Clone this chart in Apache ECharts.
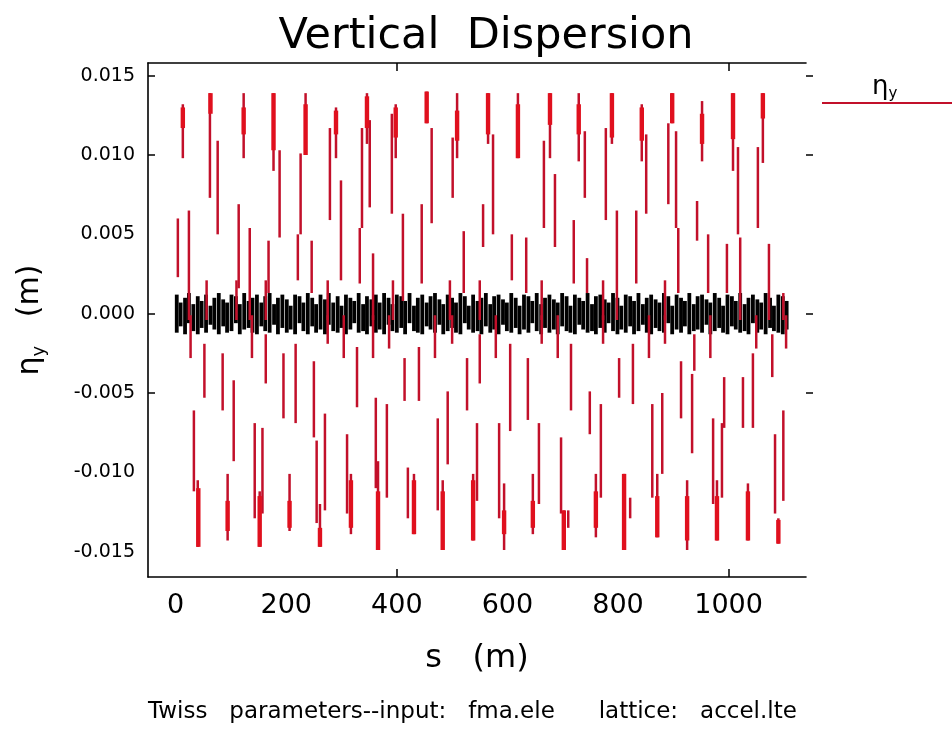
<!DOCTYPE html>
<html><head><meta charset="utf-8">
<script src="https://cdn.jsdelivr.net/npm/echarts@6/dist/echarts.min.js"></script>
<style>html,body{margin:0;padding:0;background:#fff}#c{width:952px;height:732px}</style>
</head><body><div id="c"></div>
<script>
const chartTitle = 'Vertical  Dispersion';
const footerText = 'Twiss   parameters--input:   fma.ele      lattice:   accel.lte';
const xTickLabels = [0, 200, 400, 600, 800, 1000];
const xTickMarks = [400, 1000];
const yTickLabels = [0.015, 0.010, 0.005, 0.000, -0.005, -0.010, -0.015];
const yTickMarks = [0.015, 0.010, 0.000, -0.005];

// [s (m), upper eta (m), lower eta (m)] of the red vertical strokes
const redSegments = [
[4,0.0060,0.0023],[13,0.0132,0.0098],[24,0.0065,-0.0004],[56,0.0021,-0.0004],[62,0.0139,0.0073],[76,0.0109,0.0050],
[110,0.0021,-0.0004],[114,0.0069,0.0016],[123,0.0139,0.0098],[134,0.0054,-0.0004],[163,0.0021,-0.0004],[168,0.0046,0.0013],
[177,0.0139,0.0090],[188,0.0103,0.0048],[221,0.0050,0.0021],[226,0.0101,0.0050],[235,0.0139,0.0105],[246,0.0046,0.0013],
[275,0.0021,-0.0004],[279,0.0117,0.0059],[290,0.0130,0.0098],[299,0.0084,0.0021],[333,0.0054,0.0019],[337,0.0117,0.0054],
[346,0.0139,0.0107],[351,0.0122,0.0067],[357,0.0038,-0.0004],[391,0.0126,0.0063],[393,0.0021,-0.0004],[398,0.0132,0.0098],
[411,0.0063,0.0008],[445,0.0069,0.0019],[454,0.0140,0.0120],[463,0.0117,0.0057],[496,0.0021,-0.0004],[501,0.0111,0.0073],
[509,0.0139,0.0098],[521,0.0052,0.0013],[550,0.0021,-0.0004],[556,0.0069,0.0042],[565,0.0139,0.0107],[574,0.0113,0.0050],
[608,0.0050,0.0021],[619,0.0139,0.0098],[634,0.0048,0.0013],[662,0.0021,-0.0004],[666,0.0109,0.0054],[677,0.0139,0.0098],
[686,0.0088,0.0042],[720,0.0059,0.0019],[729,0.0139,0.0096],[740,0.0115,0.0073],[744,0.0035,0.0013],[773,0.0021,-0.0004],
[778,0.0117,0.0059],[789,0.0139,0.0107],[798,0.0065,-0.0004],[833,0.0065,0.0019],[843,0.0132,0.0096],[851,0.0113,0.0063],
[885,0.0021,-0.0004],[891,0.0120,0.0069],[898,0.0139,0.0120],[905,0.0115,0.0054],[909,0.0054,0.0013],[943,0.0071,0.0046],
[952,0.0134,0.0096],[963,0.0050,0.0013],[997,0.0044,0.0013],[1008,0.0139,0.0090],[1017,0.0105,0.0050],[1021,0.0048,-0.0004],
[1053,0.0105,0.0054],[1062,0.0139,0.0095],[1073,0.0044,-0.0004],[1099,0.0013,-0.0004],
[27,-0.0001,-0.0028],[33,-0.0061,-0.0112],[40,-0.0105,-0.0147],[52,-0.0019,-0.0053],[85,-0.0025,-0.0061],[94,-0.0101,-0.0143],
[105,-0.0042,-0.0093],[138,-0.0001,-0.0028],[143,-0.0069,-0.0129],[152,-0.0112,-0.0147],[157,-0.0072,-0.0126],[163,-0.0013,-0.0044],
[195,-0.0025,-0.0066],[206,-0.0101,-0.0137],[217,-0.0019,-0.0069],[250,-0.0030,-0.0078],[255,-0.0080,-0.0132],[261,-0.0120,-0.0147],
[270,-0.0063,-0.0124],[275,-0.0001,-0.0019],[304,-0.0001,-0.0028],[310,-0.0076,-0.0126],[317,-0.0101,-0.0139],[328,-0.0021,-0.0059],
[357,-0.0001,-0.0028],[362,-0.0053,-0.0110],[366,-0.0093,-0.0149],[382,-0.0057,-0.0116],[386,-0.0001,-0.0022],[414,-0.0028,-0.0055],
[420,-0.0097,-0.0129],[431,-0.0101,-0.0139],[440,-0.0021,-0.0055],[469,-0.0001,-0.0028],[474,-0.0066,-0.0124],[483,-0.0105,-0.0149],
[492,-0.0049,-0.0095],[500,-0.0001,-0.0019],[527,-0.0028,-0.0061],[538,-0.0101,-0.0143],[545,-0.0069,-0.0118],[550,-0.0013,-0.0044],
[579,-0.0001,-0.0028],[585,-0.0069,-0.0129],[594,-0.0107,-0.0149],[605,-0.0019,-0.0074],[637,-0.0028,-0.0067],[646,-0.0101,-0.0139],
[657,-0.0069,-0.0120],[662,-0.0001,-0.0019],[691,-0.0001,-0.0028],[697,-0.0078,-0.0126],[702,-0.0124,-0.0149],[710,-0.0124,-0.0135],
[715,-0.0019,-0.0061],[749,-0.0049,-0.0076],[760,-0.0101,-0.0141],[769,-0.0057,-0.0116],[773,-0.0001,-0.0019],[802,-0.0028,-0.0053],
[811,-0.0101,-0.0149],[822,-0.0116,-0.0129],[827,-0.0019,-0.0057],[856,-0.0001,-0.0028],[862,-0.0057,-0.0116],[871,-0.0101,-0.0141],
[880,-0.0050,-0.0101],[885,-0.0001,-0.0019],[914,-0.0030,-0.0066],[925,-0.0105,-0.0149],[934,-0.0038,-0.0088],[938,-0.0013,-0.0036],
[967,-0.0001,-0.0028],[972,-0.0066,-0.0120],[979,-0.0105,-0.0143],[988,-0.0069,-0.0116],[992,-0.0040,-0.0072],[1026,-0.0040,-0.0072],
[1035,-0.0107,-0.0143],[1044,-0.0025,-0.0072],[1050,-0.0001,-0.0022],[1079,-0.0013,-0.0040],[1084,-0.0076,-0.0126],[1090,-0.0129,-0.0145],
[1099,-0.0061,-0.0118],[1104,-0.0001,-0.0022]
];

// dense parts near each extremum [s, upper, lower]
const redPeaks = [
[13,0.0130,0.0117],[63,0.0139,0.0126],[123,0.0130,0.0113],[177,0.0139,0.0103],[235,0.0132,0.0100],[290,0.0128,0.0113],
[346,0.0137,0.0117],[398,0.0130,0.0111],[454,0.0140,0.0120],[509,0.0128,0.0109],[565,0.0139,0.0113],[619,0.0132,0.0098],
[677,0.0139,0.0119],[729,0.0132,0.0113],[789,0.0139,0.0111],[843,0.0130,0.0109],[898,0.0139,0.0120],[952,0.0126,0.0107],
[1008,0.0139,0.0110],[1062,0.0139,0.0123],
[41,-0.0110,-0.0147],[94,-0.0118,-0.0137],[152,-0.0115,-0.0147],[206,-0.0118,-0.0135],[261,-0.0135,-0.0147],[317,-0.0105,-0.0135],
[366,-0.0112,-0.0149],[431,-0.0105,-0.0139],[483,-0.0112,-0.0149],[538,-0.0105,-0.0143],[594,-0.0124,-0.0139],[646,-0.0118,-0.0135],
[702,-0.0124,-0.0149],[760,-0.0112,-0.0135],[811,-0.0101,-0.0149],[871,-0.0115,-0.0141],[925,-0.0115,-0.0143],[979,-0.0115,-0.0143],
[1035,-0.0112,-0.0143],[1090,-0.0130,-0.0145]
];

// black band near zero [s, upper, lower]
const blackTeeth = [
[2,0.0012,-0.0012],[9,0.0007,-0.0008],[17,0.0010,-0.0013],[24,0.0013,-0.0006],[32,0.0006,-0.0011],[40,0.0011,-0.0013],[47,0.0008,-0.0009],[55,0.0012,-0.0012],[63,0.0005,-0.0007],[70,0.0010,-0.0010],
[78,0.0013,-0.0013],[86,0.0009,-0.0008],[93,0.0007,-0.0012],[101,0.0012,-0.0011],[109,0.0011,-0.0006],[116,0.0006,-0.0013],[124,0.0013,-0.0010],[132,0.0008,-0.0009],[139,0.0010,-0.0012],[147,0.0012,-0.0013],
[155,0.0007,-0.0008],[162,0.0011,-0.0011],[170,0.0013,-0.0012],[178,0.0006,-0.0007],[185,0.0010,-0.0013],[193,0.0012,-0.0009],[201,0.0009,-0.0012],[208,0.0005,-0.0010],[216,0.0012,-0.0013],[224,0.0011,-0.0006],
[231,0.0007,-0.0011],[239,0.0013,-0.0013],[247,0.0010,-0.0008],[254,0.0006,-0.0012],[262,0.0012,-0.0010],[270,0.0009,-0.0013],[277,0.0013,-0.0007],[285,0.0007,-0.0011],[293,0.0011,-0.0012],[300,0.0005,-0.0009],
[308,0.0012,-0.0013],[316,0.0010,-0.0010],[323,0.0008,-0.0006],[331,0.0013,-0.0012],[339,0.0006,-0.0011],[346,0.0011,-0.0013],[354,0.0009,-0.0008],[362,0.0012,-0.0012],[369,0.0007,-0.0010],[377,0.0013,-0.0013],
[385,0.0010,-0.0007],[392,0.0006,-0.0011],[400,0.0012,-0.0012],[408,0.0011,-0.0009],[415,0.0008,-0.0013],[423,0.0013,-0.0006],[431,0.0005,-0.0011],[438,0.0010,-0.0012],[446,0.0012,-0.0013],[454,0.0007,-0.0008],
[461,0.0011,-0.0010],[469,0.0013,-0.0012],[477,0.0009,-0.0007],[484,0.0006,-0.0013],[492,0.0012,-0.0011],[500,0.0010,-0.0009],[507,0.0007,-0.0012],[515,0.0013,-0.0013],[523,0.0011,-0.0006],[530,0.0005,-0.0010],
[538,0.0012,-0.0012],[546,0.0008,-0.0011],[553,0.0010,-0.0013],[561,0.0013,-0.0008],[569,0.0006,-0.0012],[576,0.0011,-0.0010],[584,0.0012,-0.0013],[592,0.0009,-0.0007],[599,0.0007,-0.0011],[607,0.0013,-0.0012],
[615,0.0010,-0.0009],[622,0.0005,-0.0013],[630,0.0012,-0.0010],[638,0.0011,-0.0012],[645,0.0008,-0.0006],[653,0.0013,-0.0011],[661,0.0006,-0.0013],[668,0.0010,-0.0009],[676,0.0012,-0.0012],[684,0.0009,-0.0010],
[691,0.0007,-0.0013],[699,0.0013,-0.0008],[707,0.0011,-0.0011],[714,0.0005,-0.0012],[722,0.0012,-0.0013],[730,0.0010,-0.0007],[737,0.0008,-0.0010],[745,0.0013,-0.0012],[753,0.0006,-0.0011],[760,0.0011,-0.0013],
[768,0.0012,-0.0009],[776,0.0009,-0.0012],[783,0.0007,-0.0006],[791,0.0013,-0.0011],[799,0.0010,-0.0013],[806,0.0005,-0.0010],[814,0.0012,-0.0012],[822,0.0011,-0.0008],[829,0.0008,-0.0013],[837,0.0013,-0.0011],
[845,0.0006,-0.0007],[852,0.0010,-0.0012],[860,0.0012,-0.0013],[868,0.0009,-0.0009],[875,0.0007,-0.0011],[883,0.0013,-0.0012],[891,0.0011,-0.0006],[898,0.0005,-0.0013],[906,0.0012,-0.0010],[914,0.0010,-0.0012],
[921,0.0008,-0.0008],[929,0.0013,-0.0013],[937,0.0006,-0.0011],[944,0.0011,-0.0010],[952,0.0012,-0.0012],[960,0.0009,-0.0007],[967,0.0007,-0.0013],[975,0.0013,-0.0011],[983,0.0010,-0.0009],[990,0.0005,-0.0012],
[998,0.0012,-0.0013],[1006,0.0011,-0.0008],[1013,0.0008,-0.0010],[1021,0.0013,-0.0012],[1029,0.0006,-0.0011],[1036,0.0010,-0.0013],[1044,0.0012,-0.0006],[1052,0.0009,-0.0012],[1059,0.0007,-0.0010],[1067,0.0013,-0.0013],
[1075,0.0010,-0.0009],[1082,0.0005,-0.0011],[1090,0.0012,-0.0012],[1098,0.0011,-0.0013],[1105,0.0008,-0.0010]
];

const FONT = 'DejaVu Sans';
const RED = '#c2102a';

function strokeSeries(name, data, color, width, z) {
  return {
    type: 'custom', name: name, data: data, z: z, silent: true, animation: false,
    encode: { x: 0, y: [1, 2] },
    itemStyle: { color: color },
    renderItem: function (params, api) {
      const s = api.value(0);
      const a = api.coord([s, api.value(1)]);
      const b = api.coord([s, api.value(2)]);
      return { type: 'line', shape: { x1: a[0], y1: a[1], x2: b[0], y2: b[1] },
               style: { stroke: color, lineWidth: width } };
    }
  };
}

const chart = echarts.init(document.getElementById('c'));
chart.setOption({
  backgroundColor: '#fff',
  animation: false,
  title: {
    text: chartTitle, left: 481, top: 10, textAlign: 'center',
    textStyle: { fontFamily: FONT, fontSize: 43, fontWeight: 'normal', color: '#000' }
  },
  legend: {
    left: 822, top: 102, itemWidth: 130, itemHeight: 2, icon: 'rect', padding: 0,
    formatter: function () { return ''; },
    data: [{ name: 'η_y', itemStyle: { color: RED } }],
    selectedMode: false
  },
  grid: { left: 148, right: 146, top: 63, bottom: 155 },
  xAxis: [
    {
      type: 'value', position: 'bottom', min: -50, max: 1140,
      axisLine: { show: true, onZero: false, lineStyle: { color: '#000', width: 1.6 } },
      axisTick: { show: true, inside: true, length: 8, customValues: xTickMarks, lineStyle: { color: '#000', width: 1.5 } },
      axisLabel: { customValues: xTickLabels, color: '#000', fontFamily: FONT, fontSize: 27, margin: 15,
                   formatter: function (v) { return String(v); } },
      splitLine: { show: false },
      name: 's   (m)', nameLocation: 'middle', nameGap: 66,
      nameTextStyle: { fontFamily: FONT, fontSize: 32, color: '#000', verticalAlign: 'top' }
    },
    {
      type: 'value', position: 'top', min: -50, max: 1140,
      axisLine: { show: true, onZero: false, lineStyle: { color: '#000', width: 1.6 } },
      axisTick: { show: true, inside: true, length: 8, customValues: xTickMarks, lineStyle: { color: '#000', width: 1.5 } },
      axisLabel: { show: false }, splitLine: { show: false }
    }
  ],
  yAxis: [
    {
      type: 'value', position: 'left', min: -0.0166, max: 0.0158,
      axisLine: { show: true, onZero: false, lineStyle: { color: '#000', width: 1.6 } },
      axisTick: { show: true, inside: true, length: 7, customValues: yTickMarks, lineStyle: { color: '#000', width: 1.5 } },
      axisLabel: { customValues: yTickLabels, color: '#000', fontFamily: FONT, fontSize: 19, margin: 13,
                   formatter: function (v) { return v.toFixed(3); } },
      splitLine: { show: false },
      name: '{e|η}{s|y}{e|   (m)}', nameLocation: 'middle', nameGap: 100, nameRotate: 90,
      nameTextStyle: { color: '#000', rich: {
        e: { fontFamily: FONT, fontSize: 30, color: '#000', lineHeight: 36 },
        s: { fontFamily: FONT, fontSize: 18, color: '#000', lineHeight: 36, verticalAlign: 'bottom' }
      } }
    },
    {
      type: 'value', position: 'right', min: -0.0166, max: 0.0158,
      axisLine: { show: false, onZero: false },
      axisTick: { show: true, inside: false, length: 7, customValues: yTickMarks, lineStyle: { color: '#000', width: 1.5 } },
      axisLabel: { show: false }, splitLine: { show: false }
    }
  ],
  graphic: [
    { type: 'text', left: 872, top: 74, style: {
        text: '{e|η}{s|y}', rich: {
          e: { fontFamily: FONT, fontSize: 26, fill: '#000', lineHeight: 30 },
          s: { fontFamily: FONT, fontSize: 15, fill: '#000', lineHeight: 30, verticalAlign: 'bottom' } } } },
    { type: 'text', left: 148, top: 701, style: {
        text: footerText, font: '23px "DejaVu Sans"', fill: '#000' } }
  ],
  series: [
    strokeSeries('ηy_black', blackTeeth, '#000', 3.8, 2),
    strokeSeries('η_y', redSegments, RED, 2.5, 3),
    strokeSeries('η_y', redPeaks, '#e0101e', 4.4, 4)
  ]
});
</script>
</body></html>
